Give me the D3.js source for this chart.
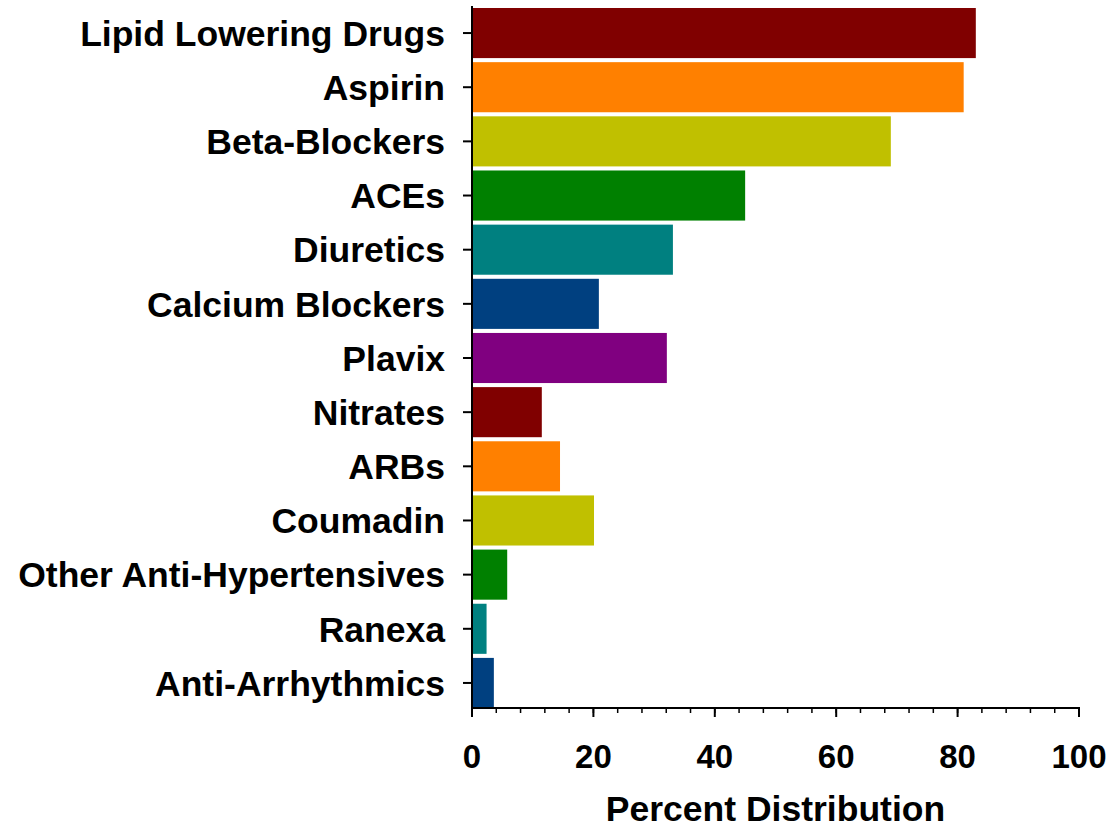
<!DOCTYPE html>
<html><head><meta charset="utf-8">
<script src="https://cdn.jsdelivr.net/npm/d3@7"></script>
<style>body{margin:0;background:#fff}svg{display:block}text{font-family:"Liberation Sans",Arial,sans-serif;font-weight:bold;fill:#000}</style>
</head><body><svg id="c" width="1113" height="830"></svg>
<script>
const categories = ["Lipid Lowering Drugs","Aspirin","Beta-Blockers","ACEs","Diuretics","Calcium Blockers","Plavix","Nitrates","ARBs","Coumadin","Other Anti-Hypertensives","Ranexa","Anti-Arrhythmics"];
const values = [83.0, 81.0, 69.0, 45.0, 33.1, 20.9, 32.1, 11.5, 14.5, 20.1, 5.8, 2.4, 3.6];
const colors = ["#800000","#FF8000","#C0C000","#008000","#008080","#004080","#800080","#800000","#FF8000","#C0C000","#008000","#008080","#004080"];
const xTicks = [0,20,40,60,80,100];
const xTitle = "Percent Distribution";

const svg = d3.select("#c");
const x = d3.scaleLinear().domain([0,100]).range([472,1079]);
const y = d3.scaleBand().domain(categories).range([8,708]).paddingInner(0.075).paddingOuter(0);

svg.selectAll("rect.bar").data(categories).join("rect").attr("class","bar")
  .attr("x", x(0)).attr("y", d=>y(d))
  .attr("width", (d,i)=>x(values[i])-x(0)).attr("height", y.bandwidth())
  .attr("fill",(d,i)=>colors[i]);

// y axis
const yAxis = svg.append("g");
yAxis.append("line").attr("x1",472).attr("x2",472).attr("y1",6).attr("y2",709).attr("stroke","#000").attr("stroke-width",2);
categories.forEach(c=>{
  const cy = y(c)+y.bandwidth()/2;
  yAxis.append("line").attr("x1",463).attr("x2",472).attr("y1",cy).attr("y2",cy).attr("stroke","#000").attr("stroke-width",2);
  yAxis.append("text").attr("x",445).attr("y",cy).attr("dy","0.36em").attr("text-anchor","end").style("font-size","35.5px").text(c);
});

// x axis
const xAxis = svg.append("g");
xAxis.append("line").attr("x1",471).attr("x2",1080).attr("y1",708).attr("y2",708).attr("stroke","#000").attr("stroke-width",2);
d3.range(0,101,4).forEach(v=>{
  xAxis.append("line").attr("x1",x(v)).attr("x2",x(v)).attr("y1",708).attr("y2",713).attr("stroke","#000").attr("stroke-width",1.5);
});
xTicks.forEach(v=>{
  xAxis.append("line").attr("x1",x(v)).attr("x2",x(v)).attr("y1",708).attr("y2",717).attr("stroke","#000").attr("stroke-width",2);
  xAxis.append("text").attr("x",x(v)).attr("y",768).attr("text-anchor","middle").style("font-size","33px").text(v);
});
svg.append("text").attr("x",(x(0)+x(100))/2).attr("y",821).attr("text-anchor","middle").style("font-size","35.5px").text(xTitle);
</script></body></html>
